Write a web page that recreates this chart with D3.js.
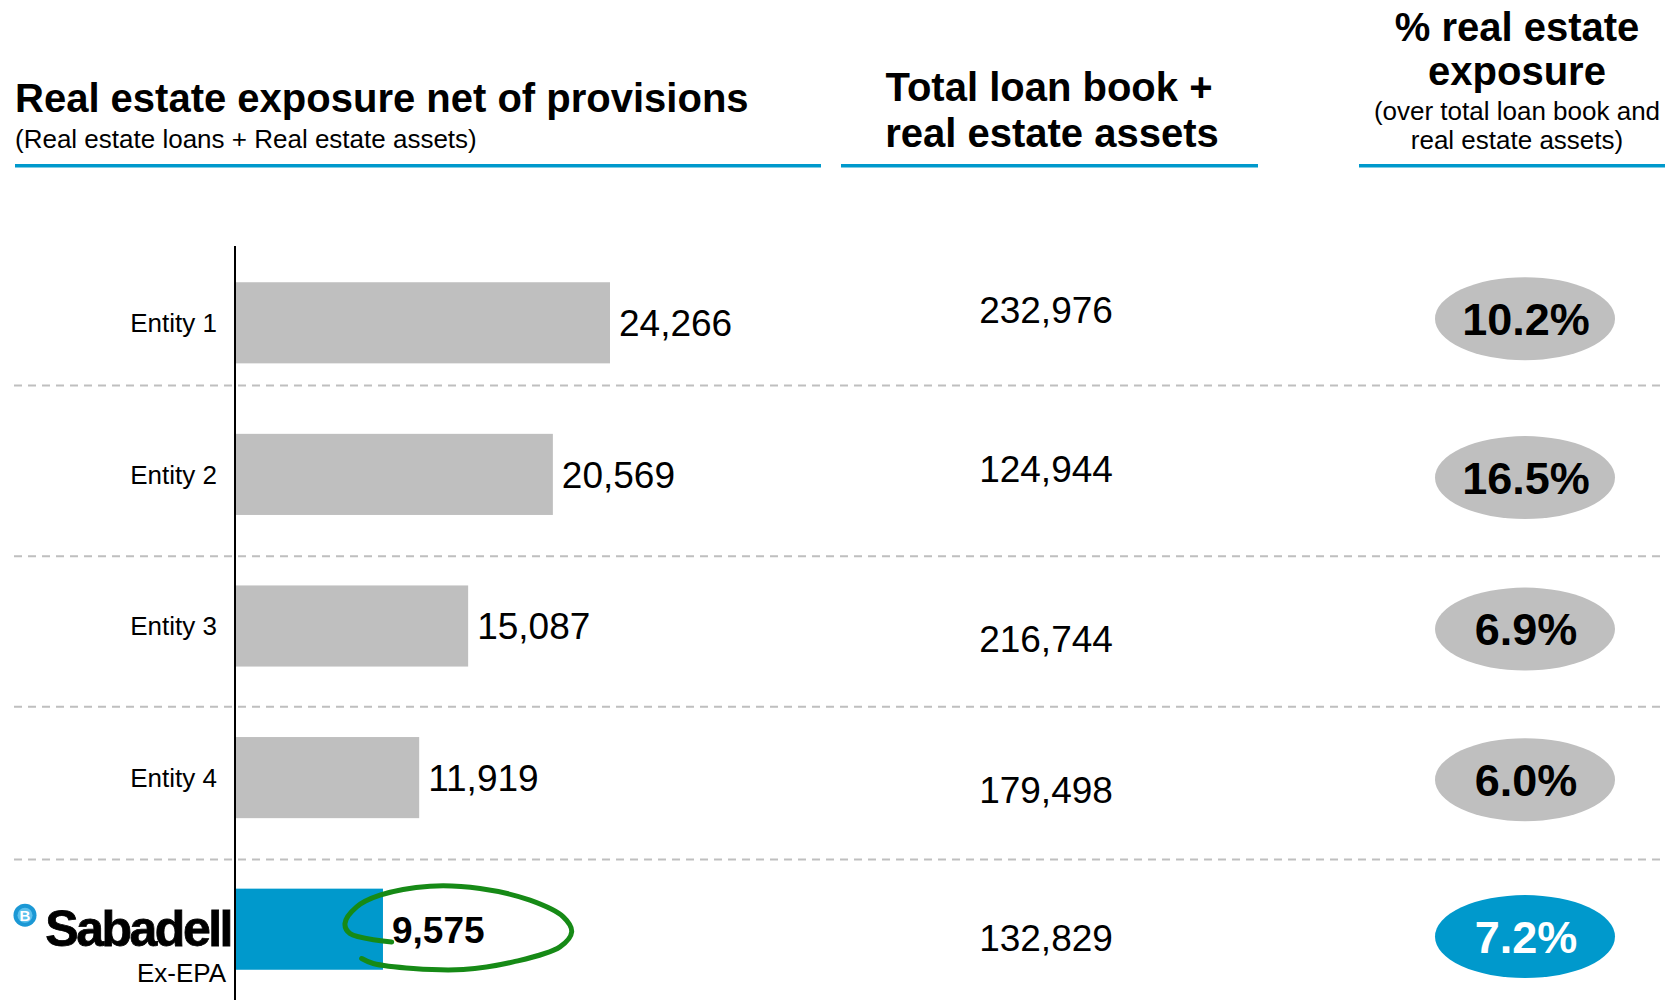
<!DOCTYPE html>
<html>
<head>
<meta charset="utf-8">
<script src="https://cdn.jsdelivr.net/npm/d3@7"></script>
<style>
  html, body { margin: 0; padding: 0; background: #ffffff; }
  svg { display: block; }
  text { font-family: "Liberation Sans", Arial, Helvetica, sans-serif; fill: #000; }
</style>
</head>
<body>
<svg id="chart" width="1665" height="1000"></svg>
<script>
// ---- Data ----
const entities = ["Entity 1", "Entity 2", "Entity 3", "Entity 4", "Sabadell"];
const exposureNet = [24266, 20569, 15087, 11919, 9575];           // real estate exposure net of provisions
const totalLoanBook = [232976, 124944, 216744, 179498, 132829];  // total loan book + real estate assets
const exposurePct = [10.2, 16.5, 6.9, 6.0, 7.2];                 // % real estate exposure
const highlightEntity = "Sabadell";

// ---- Layout / style ----
const W = 1665, H = 1000;
const BLUE = "#0099cc", GREY = "#bfbfbf", GREEN = "#168a16";
const axisX = 235;
// vertical nudges (px) for the middle column text, the percent badges and the row dividers
const midNudge = [-12.7, -5.3, 12.7, 11.7, 8.4];
const badgeNudge = [-4.1, 3.2, 3.1, 2.1, 7.4];
const dividerNudge = [-13, 6, 5, 6];

const svg = d3.select("#chart");

const y = d3.scaleBand()
  .domain(entities)
  .range([247, 1005])
  .paddingInner(0.465)
  .paddingOuter(0.2325);

const x = d3.scaleLinear()
  .domain([0, 30000])
  .range([axisX, axisX + 30000 * 375 / 24266]);

const fmt = d3.format(",");
const rowC = d => y(d) + y.bandwidth() / 2;

// ---- Column headers ----
const hdr = svg.append("g");
hdr.append("text").attr("x", 15).attr("y", 112)
  .style("font-size", "40px").style("font-weight", "bold")
  .text("Real estate exposure net of provisions");
hdr.append("text").attr("x", 15).attr("y", 148)
  .style("font-size", "26px")
  .text("(Real estate loans + Real estate assets)");

hdr.append("text").attr("x", 1049).attr("y", 101).attr("text-anchor", "middle")
  .style("font-size", "40px").style("font-weight", "bold").text("Total loan book +");
hdr.append("text").attr("x", 1052).attr("y", 147).attr("text-anchor", "middle")
  .style("font-size", "40px").style("font-weight", "bold").text("real estate assets");

const rX = 1517;
hdr.append("text").attr("x", rX).attr("y", 41).attr("text-anchor", "middle")
  .style("font-size", "40px").style("font-weight", "bold").text("% real estate");
hdr.append("text").attr("x", rX).attr("y", 85).attr("text-anchor", "middle")
  .style("font-size", "40px").style("font-weight", "bold").text("exposure");
hdr.append("text").attr("x", rX).attr("y", 120).attr("text-anchor", "middle")
  .style("font-size", "26px").text("(over total loan book and");
hdr.append("text").attr("x", rX).attr("y", 149).attr("text-anchor", "middle")
  .style("font-size", "26px").text("real estate assets)");

[[15, 821], [841, 1258], [1359, 1665]].forEach(([a, b]) => {
  hdr.append("rect").attr("x", a).attr("y", 164).attr("width", b - a).attr("height", 3.5)
    .attr("fill", BLUE);
});

// ---- Row dividers ----
const dividers = entities.slice(1).map((d, i) => y(d) - y.step() * y.paddingInner() / 2 + dividerNudge[i]);
svg.append("g").selectAll("line").data(dividers).join("line")
  .attr("x1", 14).attr("x2", W)
  .attr("y1", d => d).attr("y2", d => d)
  .attr("stroke", GREY).attr("stroke-width", 2)
  .attr("stroke-dasharray", "8,6");

// ---- Bars ----
const rows = entities.map((e, i) => ({
  e, v: exposureNet[i], total: totalLoanBook[i], pct: exposurePct[i], i,
  hi: e === highlightEntity
}));

svg.append("g").selectAll("rect").data(rows).join("rect")
  .attr("x", x(0) + 1)
  .attr("y", d => y(d.e))
  .attr("width", d => x(d.v) - x(0) - 1)
  .attr("height", y.bandwidth())
  .attr("fill", d => d.hi ? BLUE : GREY);

// category axis line
svg.append("line").attr("x1", axisX).attr("x2", axisX).attr("y1", 246).attr("y2", H)
  .attr("stroke", "#000").attr("stroke-width", 2);

// value labels
svg.append("g").selectAll("text").data(rows).join("text")
  .attr("x", d => x(d.v) + 9)
  .attr("y", d => rowC(d.e))
  .attr("dy", "0.36em")
  .style("font-size", "37px")
  .style("font-weight", d => d.hi ? "bold" : "normal")
  .text(d => fmt(d.v));

// category labels (plain entities)
svg.append("g").selectAll("text").data(rows.filter(d => !d.hi)).join("text")
  .attr("x", 217)
  .attr("y", d => rowC(d.e))
  .attr("dy", "0.36em")
  .attr("text-anchor", "end")
  .style("font-size", "26px")
  .text(d => d.e);

// highlighted entity: brand mark
const hiRow = rows.find(d => d.hi);
const logo = svg.append("g");
const logoY = rowC(hiRow.e);
logo.append("circle").attr("cx", 25).attr("cy", logoY - 14).attr("r", 11.5).attr("fill", "#1b98d5");
logo.append("circle").attr("cx", 25).attr("cy", logoY - 14).attr("r", 7.5).attr("fill", "#5cc0ec");
logo.append("text").attr("x", 25).attr("y", logoY - 14).attr("dy", "0.36em").attr("text-anchor", "middle")
  .style("font-size", "15px").style("font-weight", "bold").style("fill", "#fff").text("B");
logo.append("text").attr("x", 231).attr("y", logoY + 17).attr("text-anchor", "end")
  .style("font-size", "50px").style("font-weight", "bold").style("letter-spacing", "-2.5px")
  .attr("stroke", "#000").attr("stroke-width", 0.8)
  .text(hiRow.e);
logo.append("text").attr("x", 226).attr("y", logoY + 53).attr("text-anchor", "end")
  .style("font-size", "26px").text("Ex-EPA");

// hand-drawn loop around the highlighted value
const loopPts = [
  [8.7, 12.7], [-33, 4.3], [-38, -5.7], [-26.3, -22.3], [-3, -34], [47, -43], [97, -40.7],
  [147, -29], [180.3, -12.3], [188.7, 2.7], [177, 17.7], [130.3, 32.7], [80.3, 40.3],
  [30.3, 39.3], [-9.7, 34.3], [-21.3, 29.3]
];
const ax0 = x(hiRow.v), ay0 = rowC(hiRow.e);
svg.append("path")
  .attr("d", d3.line().curve(d3.curveCatmullRom.alpha(0.5))(loopPts.map(([dx, dy]) => [ax0 + dx, ay0 + dy])))
  .attr("fill", "none").attr("stroke", GREEN).attr("stroke-width", 5).attr("stroke-linecap", "round");

// ---- Middle column: totals ----
svg.append("g").selectAll("text").data(rows).join("text")
  .attr("x", 1046)
  .attr("y", d => rowC(d.e) + midNudge[d.i])
  .attr("dy", "0.36em")
  .attr("text-anchor", "middle")
  .style("font-size", "37px")
  .text(d => fmt(d.total));

// ---- Right column: percent badges ----
const badges = svg.append("g").selectAll("g").data(rows).join("g")
  .attr("transform", d => `translate(1525,${rowC(d.e) + badgeNudge[d.i]})`);
badges.append("ellipse").attr("rx", 90).attr("ry", 41.5)
  .attr("fill", d => d.hi ? BLUE : GREY);
badges.append("text")
  .attr("x", 1).attr("dy", "0.36em").attr("text-anchor", "middle")
  .style("font-size", "45px").style("font-weight", "bold")
  .style("fill", d => d.hi ? "#fff" : "#000")
  .text(d => d.pct.toFixed(1) + "%");
</script>
</body>
</html>
